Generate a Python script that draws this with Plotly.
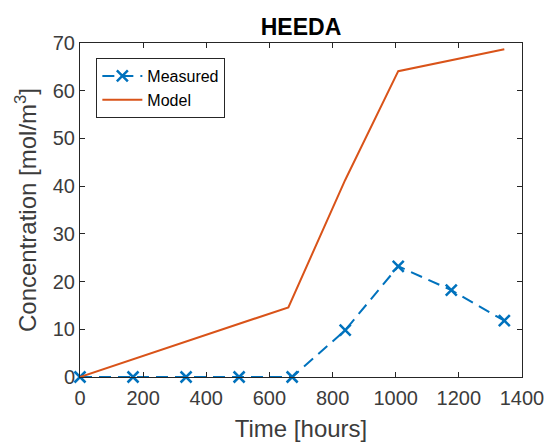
import plotly.graph_objects as go

meas_t = [0, 168, 336, 504, 672, 840, 1008, 1176, 1344]
meas_c = [0, 0, 0, 0, 0, 9.8, 23.2, 18.2, 11.8]
model_t = [0, 660, 840, 1008, 1344]
model_c = [0, 14.6, 41.3, 64.1, 68.7]
x_ticks = [0, 200, 400, 600, 800, 1000, 1200, 1400]
y_ticks = [0, 10, 20, 30, 40, 50, 60, 70]

FONT = "Liberation Sans, Arial, sans-serif"
AX = "#262626"
TXT = "#3c3c3c"

fig = go.Figure()
fig.add_trace(go.Scatter(x=meas_t, y=meas_c, name="Measured", mode="lines+markers",
                         line=dict(color="#0072BD", width=2, dash="12px,7px"),
                         marker=dict(symbol="x-thin", size=11, line=dict(color="#0072BD", width=2.5)),
                         cliponaxis=False))
fig.add_trace(go.Scatter(x=model_t, y=model_c, name="Model", mode="lines",
                         line=dict(color="#D95319", width=2), cliponaxis=False))

axis_common = dict(showline=True, linecolor=AX, linewidth=1, mirror="ticks",
                   ticks="inside", ticklen=5, tickcolor=AX, tickwidth=1,
                   showgrid=False, zeroline=False, automargin=False,
                   tickfont=dict(family=FONT, size=20, color=TXT))
fig.update_xaxes(range=[0, 1400], tickvals=x_ticks, ticklabelstandoff=3,
                 title=dict(text="Time [hours]", font=dict(family=FONT, size=24, color=TXT), standoff=12),
                 **axis_common)
fig.update_yaxes(range=[0, 70], tickvals=y_ticks,
                 title=dict(text="Concentration [mol/m<sup>3</sup>]", font=dict(family=FONT, size=24, color=TXT), standoff=9),
                 **axis_common)

fig.update_layout(
    width=547, height=443,
    margin=dict(l=80, r=25, t=43, b=66),
    paper_bgcolor="white", plot_bgcolor="white",
    title=dict(text="<b>HEEDA</b>", x=0.5, xanchor="center", xref="paper",
               y=1, yref="paper", yanchor="bottom", pad=dict(b=8),
               font=dict(family=FONT, size=23, color="black")),
    legend=dict(x=0.037, y=0.955, xanchor="left", yanchor="top",
                bordercolor=AX, borderwidth=1, bgcolor="white",
                font=dict(family=FONT, size=16, color="black"),
                tracegroupgap=0, itemwidth=40),
    showlegend=True,
)
fig.write_html("out.html")
